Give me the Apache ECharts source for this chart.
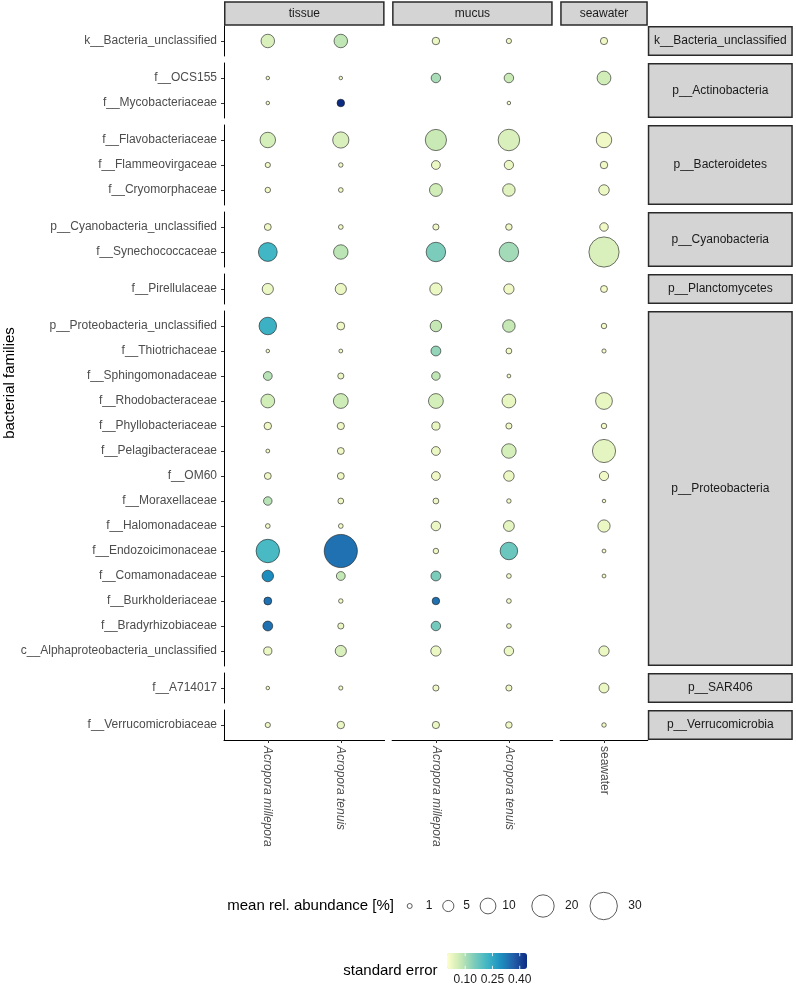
<!DOCTYPE html>
<html>
<head>
<meta charset="utf-8">
<script src="https://cdn.jsdelivr.net/npm/echarts@6/dist/echarts.min.js"></script>
<style>
html,body{margin:0;padding:0;background:#fff;}
#chart{width:796px;height:987px;}
</style>
</head>
<body>
<div id="chart"></div>
<script>
// ---------------- DATA ----------------
const phyla = ['k__Bacteria_unclassified','p__Actinobacteria','p__Bacteroidetes','p__Cyanobacteria','p__Planctomycetes','p__Proteobacteria','p__SAR406','p__Verrucomicrobia'];
const phylumFamilies = [
  ['k__Bacteria_unclassified'],
  ['f__OCS155','f__Mycobacteriaceae'],
  ['f__Flavobacteriaceae','f__Flammeovirgaceae','f__Cryomorphaceae'],
  ['p__Cyanobacteria_unclassified','f__Synechococcaceae'],
  ['f__Pirellulaceae'],
  ['p__Proteobacteria_unclassified','f__Thiotrichaceae','f__Sphingomonadaceae','f__Rhodobacteraceae','f__Phyllobacteriaceae','f__Pelagibacteraceae','f__OM60','f__Moraxellaceae','f__Halomonadaceae','f__Endozoicimonaceae','f__Comamonadaceae','f__Burkholderiaceae','f__Bradyrhizobiaceae','c__Alphaproteobacteria_unclassified'],
  ['f__A714017'],
  ['f__Verrucomicrobiaceae']
];
const facets = ['tissue','mucus','seawater'];
const facetHosts = [['Acropora millepora','Acropora tenuis'],['Acropora millepora','Acropora tenuis'],['seawater']];

// mean relative abundance [%], families in order of phylumFamilies (flattened)
const abTissueMil = [7.3,0.5,0.5, 9.6,1.1,1.2, 1.9,14.2, 5.0, 12.3,0.5,3.1,7.6,2.25,0.6,1.9,2.9,0.9,22,5.3,2.5,3.9,2.7, 0.5, 1.1];
const abTissueTen = [7.3,0.5,2.3, 10.5,0.8,0.9, 0.9,8.4, 5.0, 2.5,0.6,1.5,8.8,2.1,1.9,1.9,1.35,0.9,44,3.1,0.8,1.5,5.0, 0.7, 2.25];
const abMucusMil  = [2.25,3.6,null, 18,3.1,6.6, 1.5,15.2, 6.0, 5.3,3.9,2.9,8.8,2.7,3.1,3.1,1.35,3.6,1.2,3.9,2.25,3.6,4.2, 1.5, 2.1];
const abMucusTen  = [1.1,3.6,0.5, 18.5,3.4,6.25, 1.7,15.2, 4.2, 6.25,1.35,0.58,7.6,1.5,8.4,4.4,0.8,4.7,12.3,0.9,0.9,0.9,3.6, 1.5, 1.7];
const abSeawater  = [2.1,7.6,null, 9.6,2.25,4.4, 2.9,36.5, 1.9, 1.2,0.7,null,11.3,1.2,21.5,3.4,0.5,6.0,0.6,0.6,null,null,4.2, 3.9, 0.8];
// standard error
const seTissueMil = [0.05,0.015,0.01, 0.055,0.015,0.015, 0.02,0.22, 0.025, 0.23,0.01,0.09,0.06,0.02,0.015,0.02,0.09,0.015,0.21,0.30,0.34,0.34,0.025, 0.01, 0.02];
const seTissueTen = [0.08,0.015,0.44, 0.05,0.015,0.015, 0.015,0.085, 0.025, 0.02,0.015,0.025,0.065,0.02,0.02,0.02,0.02,0.015,0.34,0.075,0.015,0.025,0.05, 0.015, 0.025];
const seMucusMil  = [0.025,0.105,null, 0.07,0.025,0.06, 0.02,0.15, 0.025, 0.075,0.125,0.08,0.055,0.03,0.025,0.02,0.02,0.025,0.02,0.15,0.34,0.16,0.025, 0.02, 0.025];
const seMucusTen  = [0.02,0.07,0.01, 0.05,0.025,0.04, 0.02,0.11, 0.02, 0.075,0.015,0.015,0.03,0.02,0.055,0.025,0.015,0.035,0.17,0.015,0.015,0.015,0.025, 0.02, 0.02];
const seSeawater  = [0.02,0.06,null, 0.02,0.02,0.025, 0.02,0.05, 0.015, 0.015,0.01,null,0.03,0.015,0.035,0.02,0.01,0.025,0.01,0.01,null,null,0.025, 0.025, 0.015];

const columns = [
  {facet:0, host:0, ab:abTissueMil, se:seTissueMil},
  {facet:0, host:1, ab:abTissueTen, se:seTissueTen},
  {facet:1, host:0, ab:abMucusMil,  se:seMucusMil},
  {facet:1, host:1, ab:abMucusTen,  se:seMucusTen},
  {facet:2, host:0, ab:abSeawater,  se:seSeawater}
];
const sizeBreaks = [1,5,10,20,30];
const seTicks = [0.10,0.25,0.40];
const seMin = 0, seMax = 0.44;
const palette = ['#FFFFCC','#C7E9B4','#7FCDBB','#41B6C4','#1D91C0','#225EA8','#0C2C84'];

// ---------------- LAYOUT ----------------
const ROW_U = 25, PAD = 0.6, ROW_TOP0 = 26, ROW_GAP = 7;
const COL_U = 73, COL_LEFT0 = 224, COL_GAP = 7.5;
const STRIP_TOP = 2, STRIP_H = 23, RSTRIP_W = 145;
const FONT = '"Liberation Sans", Arial, Helvetica, sans-serif';
function sizeFn(v){ return 5*Math.sqrt(v); }

const rowPanels = []; let yy = ROW_TOP0;
phylumFamilies.forEach(f => { const h = (f.length-1+2*PAD)*ROW_U; rowPanels.push({top:yy,h}); yy += h + ROW_GAP; });
const colPanels = []; let xx = COL_LEFT0;
facetHosts.forEach(hs => { const w = (hs.length-1+2*PAD)*COL_U; colPanels.push({left:xx,w}); xx += w + COL_GAP; });

// ---------------- BUILD ----------------
const grid=[], xAxis=[], yAxis=[], series=[];
const famStart = []; let acc = 0; phylumFamilies.forEach(f=>{famStart.push(acc); acc+=f.length;});
const lastRow = phylumFamilies.length-1;

phylumFamilies.forEach((fams, r) => {
  facets.forEach((fc, f) => {
    const gi = grid.length;
    grid.push({left:colPanels[f].left, top:rowPanels[r].top, width:colPanels[f].w, height:rowPanels[r].h, containLabel:false});
    const hosts = facetHosts[f];
    const showX = r === lastRow;
    xAxis.push({
      type:'value', gridIndex:gi, min:-PAD, max:hosts.length-1+PAD, show:showX, position:'bottom',
      splitLine:{show:false},
      axisLine:{show:true, onZero:false, lineStyle:{color:'#000', width:1}},
      axisTick:{show:true, length:3, lineStyle:{color:'#333', width:1}, customValues:hosts.map((h,i)=>i)},
      axisLabel:{show:true, customValues:hosts.map((h,i)=>i), formatter:v=>hosts[Math.round(v)],
        rotate:-90, margin:6, fontSize:12, color:'#4D4D4D', fontFamily:FONT,
        fontStyle: f<2 ? 'italic':'normal'}
    });
    const showY = f === 0;
    yAxis.push({
      type:'value', gridIndex:gi, inverse:true, min:-PAD, max:fams.length-1+PAD, show:showY, position:'left',
      splitLine:{show:false},
      axisLine:{show:true, onZero:false, lineStyle:{color:'#000', width:1}},
      axisTick:{show:true, length:3, lineStyle:{color:'#333', width:1}, customValues:fams.map((h,i)=>i)},
      axisLabel:{show:true, customValues:fams.map((h,i)=>i), formatter:v=>fams[Math.round(v)],
        margin:7, fontSize:12, color:'#4D4D4D', fontFamily:FONT}
    });
    const data = [];
    columns.filter(c=>c.facet===f).forEach(c => {
      fams.forEach((fam, i) => {
        const k = famStart[r]+i;
        if (c.ab[k] != null) data.push([c.host, i, c.ab[k], c.se[k]]);
      });
    });
    series.push({
      type:'scatter', xAxisIndex:gi, yAxisIndex:gi, data,
      symbol:'circle', symbolSize: v => sizeFn(v[2]),
      itemStyle:{borderColor:'#1a1a1a', borderWidth:0.6, opacity:1},
      emphasis:{disabled:true}, silent:true
    });
  });
});

// graphics: strips, titles, legends
const graphic = [];
facets.forEach((fc,f)=>{
  graphic.push({type:'rect', shape:{x:colPanels[f].left+0.75, y:STRIP_TOP, width:colPanels[f].w-1.5, height:STRIP_H},
    style:{fill:'#D4D4D4', stroke:'#2a2a2a', lineWidth:1.5}, silent:true});
  graphic.push({type:'text', x:colPanels[f].left+colPanels[f].w/2, y:STRIP_TOP+STRIP_H/2,
    style:{text:fc, fill:'#1A1A1A', font:'12px '+FONT, align:'center', verticalAlign:'middle'}, silent:true});
});
const rsLeft = colPanels[2].left + colPanels[2].w;
phyla.forEach((p,r)=>{
  graphic.push({type:'rect', shape:{x:rsLeft+0.75, y:rowPanels[r].top+0.75, width:RSTRIP_W-1.5, height:rowPanels[r].h-1.5},
    style:{fill:'#D4D4D4', stroke:'#2a2a2a', lineWidth:1.5}, silent:true});
  graphic.push({type:'text', x:rsLeft+RSTRIP_W/2, y:rowPanels[r].top+rowPanels[r].h/2,
    style:{text:p, fill:'#1A1A1A', font:'12px '+FONT, align:'center', verticalAlign:'middle'}, silent:true});
});
// y axis title
const panelsTop = rowPanels[0].top, panelsBot = rowPanels[lastRow].top+rowPanels[lastRow].h;
graphic.push({type:'text', x:10, y:(panelsTop+panelsBot)/2, rotation:Math.PI/2,
  style:{text:'bacterial families', fill:'#000', font:'15px '+FONT, align:'center', verticalAlign:'middle'}, silent:true});

// size legend
const SL_Y = 906;
graphic.push({type:'text', x:394, y:SL_Y, style:{text:'mean rel. abundance [%]', fill:'#000', font:'15px '+FONT, align:'right', verticalAlign:'middle'}, silent:true});
const slCenters = [409.7, 448.3, 488, 543, 603.7];
const slLabels = [429, 466.7, 509, 571.7, 635];
sizeBreaks.forEach((v,i)=>{
  graphic.push({type:'circle', shape:{cx:slCenters[i], cy:SL_Y, r:sizeFn(v)/2},
    style:{fill:'#fff', stroke:'#333', lineWidth:0.8}, silent:true});
  graphic.push({type:'text', x:slLabels[i], y:SL_Y, style:{text:String(v), fill:'#1A1A1A', font:'12px '+FONT, align:'center', verticalAlign:'middle'}, silent:true});
});

// colour legend
const CB_L = 447, CB_T = 953, CB_W = 80, CB_H = 16;
graphic.push({type:'text', x:437.5, y:971, style:{text:'standard error', fill:'#000', font:'15px '+FONT, align:'right', verticalAlign:'middle'}, silent:true});
seTicks.forEach(t=>{
  const x = CB_L + (t-seMin)/(seMax-seMin)*CB_W;
  graphic.push({type:'text', x, y:980, style:{text:t.toFixed(2), fill:'#1A1A1A', font:'12px '+FONT, align:'center', verticalAlign:'middle'}, silent:true, z:10});
  graphic.push({type:'line', shape:{x1:x, y1:CB_T, x2:x, y2:CB_T+3.2}, style:{stroke:'#fff', lineWidth:0.8}, silent:true, z:10});
  graphic.push({type:'line', shape:{x1:x, y1:CB_T+CB_H-3.2, x2:x, y2:CB_T+CB_H}, style:{stroke:'#fff', lineWidth:0.8}, silent:true, z:10});
});

const chart = echarts.init(document.getElementById('chart'), null, {renderer:'canvas'});
chart.setOption({
  animation:false,
  backgroundColor:'#fff',
  grid, xAxis, yAxis, series,
  visualMap:{
    type:'continuous', show:true, min:seMin, max:seMax, dimension:3,
    seriesIndex: series.map((s,i)=>i),
    inRange:{color:palette},
    orient:'horizontal', left:CB_L, top:CB_T, itemWidth:CB_H, itemHeight:CB_W,
    calculable:false, padding:0, text:null, showLabel:false, hoverLink:false
  },
  graphic:{elements:graphic}
});
</script>
</body>
</html>
